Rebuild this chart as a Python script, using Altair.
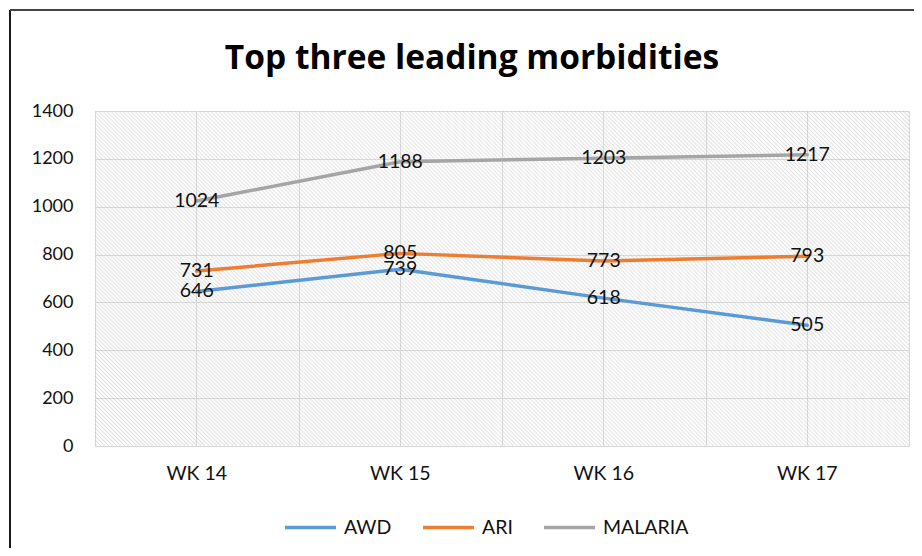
import altair as alt
import pandas as pd

weeks = ["WK 14", "WK 15", "WK 16", "WK 17"]
series_names = ["AWD", "ARI", "MALARIA"]
awd = [646, 739, 618, 505]
ari = [731, 805, 773, 793]
malaria = [1024, 1188, 1203, 1217]
y_ticks = [0, 200, 400, 600, 800, 1000, 1200, 1400]
colors = ["#5B9BD5", "#ED7D31", "#A5A5A5"]
title_text = ["Top three leading morbidities"]

rows = []
for name, vals in zip(series_names, [awd, ari, malaria]):
    for w, v in zip(weeks, vals):
        rows.append({"week": w, "disease": name, "value": v})
df = pd.DataFrame(rows)

W, H = 814, 335
FONT = "Lato"
GRID = "#d9d9d9"

# diagonal hatch texture for the plot background (style only)
N = 287
stops = []
for i in range(2 * N + 1):
    stops.append({"offset": i / (2 * N),
                  "color": "rgba(255,255,255,0)" if i % 2 == 0 else "rgba(175,175,175,0.4)"})
hatch = {"gradient": "linear", "stops": stops, "x1": 0, "y1": 1, "x2": 1.2071, "y2": 0.5033}

xscale = alt.Scale(type="band", domain=weeks, paddingInner=0, paddingOuter=0)
yscale = alt.Scale(domain=[0, 1400])

one = pd.DataFrame({"k": [0]})

bg = alt.Chart(one).mark_rect(fill=hatch).encode(
    x=alt.value(0), x2=alt.value(W), y=alt.value(0), y2=alt.value(H)
)

yaxis = alt.Axis(values=y_ticks, format="d", grid=True, gridColor=GRID, gridWidth=1, domain=False, ticks=False,
                 labelFont=FONT, labelFontSize=18, labelColor="#111", labelPadding=22, title=None)

grid_edges = alt.Chart(df).mark_line(opacity=0).encode(
    x=alt.X("week:N", scale=xscale, bandPosition=0.5,
            axis=alt.Axis(tickBand="extent", grid=True, gridColor=GRID, labels=False, ticks=False,
                          domain=False, title=None, orient="bottom")),
    y=alt.Y("value:Q", scale=yscale, axis=yaxis),
)

lines = alt.Chart(df).mark_line(strokeWidth=3.5, strokeCap="round", strokeJoin="round").encode(
    x=alt.X("week:N", scale=xscale, bandPosition=0.5,
            axis=alt.Axis(grid=True, gridColor=GRID, ticks=False, domain=False, title=None, orient="bottom",
                          labelAngle=0, labelFont=FONT, labelFontSize=19.5, labelColor="#111",
                          labelPadding=18)),
    y=alt.Y("value:Q", scale=yscale, axis=yaxis),
    color=alt.Color("disease:N", scale=alt.Scale(domain=series_names, range=colors),
                    legend=alt.Legend(orient="none", legendX=188, legendY=389, direction="horizontal",
                                      title=None, symbolType="stroke", symbolSize=2600,
                                      symbolStrokeWidth=3.5, labelFont=FONT, labelFontSize=19.5,
                                      labelColor="#111", columnPadding=24, labelOffset=6)),
)

labels = alt.Chart(df).mark_text(font=FONT, fontSize=19.5, color="#111", baseline="middle", align="center").encode(
    x=alt.X("week:N", scale=xscale, bandPosition=0.5, axis=None),
    y=alt.Y("value:Q", scale=yscale),
    text=alt.Text("value:Q"),
)

title = alt.Chart(pd.DataFrame({"t": title_text})).mark_text(
    font="Open Sans", fontSize=33.5, fontWeight="bold", color="#000", align="center", baseline="alphabetic"
).encode(x=alt.value(377), y=alt.value(-42), text="t:N")

frame_left = alt.Chart(one).mark_rule(color="#1a1a1a", strokeWidth=2).encode(
    x=alt.value(-85), y=alt.value(-101), y2=alt.value(H + 120)
)
frame_top = alt.Chart(one).mark_rule(color="#444444", strokeWidth=2).encode(
    x=alt.value(-85), x2=alt.value(W + 20), y=alt.value(-101)
)

chart = alt.layer(grid_edges, bg, lines, labels, title, frame_left, frame_top).resolve_axis(
    x="independent"
).properties(
    width=W, height=H,
    padding={"left": 87, "top": 103, "right": 5, "bottom": 102},
    autosize=alt.AutoSizeParams(type="none"),
).configure(background="white").configure_view(stroke=None)

chart.save("out.html", embed_options={"renderer": "svg", "actions": False})
